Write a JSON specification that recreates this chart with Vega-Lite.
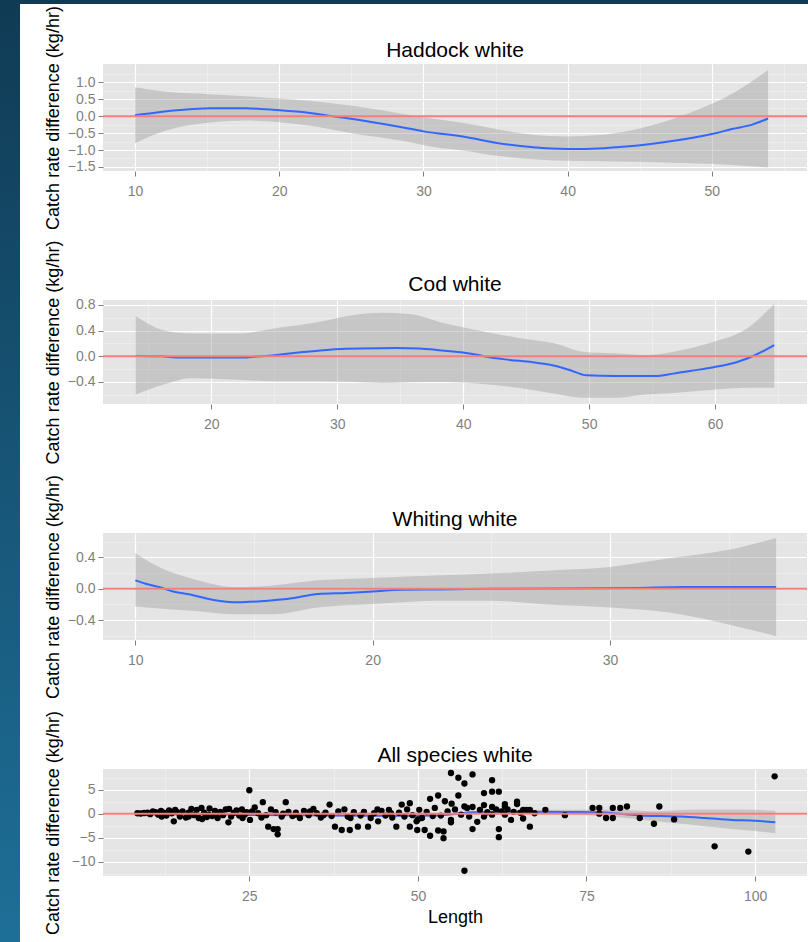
{
  "$schema": "https://vega.github.io/schema/vega-lite/v6.json",
  "padding": 0,
  "background": "#ffffff",
  "spacing": 0,
  "config": {
    "font": "Liberation Sans",
    "view": {"stroke": null, "fill": "#e5e5e5"},
    "axis": {
      "domain": false,
      "grid": true,
      "labelFont": "Liberation Sans",
      "labelFontSize": 14,
      "labelColor": "#7f7f7f",
      "tickColor": "#7f7f7f",
      "tickSize": 5,
      "tickWidth": 1,
      "titleFont": "Liberation Sans",
      "titleFontSize": 18,
      "titleFontWeight": "normal",
      "titleColor": "#000000",
      "gridColor": "#ffffff",
      "gridWidth": 1.2,
      "labelOverlap": false
    },
    "axisX": {"labelPadding": 8},
    "axisY": {"labelPadding": 3, "labelOverlap": false},
    "title": {"font": "Liberation Sans", "fontSize": 21, "fontWeight": "normal", "color": "#000000", "frame": "group", "anchor": "middle", "offset": -55},
    "point": {"filled": true, "color": "#000000", "size": 40, "opacity": 1}
  },
  "datasets": {
    "had_band": [
      {"len": 10, "lo": -0.80, "hi": 0.85}, {"len": 12.2, "lo": -0.42, "hi": 0.72}, {"len": 15.2, "lo": -0.19, "hi": 0.65},
      {"len": 17.7, "lo": -0.13, "hi": 0.59}, {"len": 20.0, "lo": -0.18, "hi": 0.52}, {"len": 22.4, "lo": -0.30, "hi": 0.44},
      {"len": 25.2, "lo": -0.52, "hi": 0.30}, {"len": 28.4, "lo": -0.72, "hi": 0.08}, {"len": 30.7, "lo": -0.91, "hi": -0.08},
      {"len": 33.0, "lo": -1.03, "hi": -0.22}, {"len": 35.1, "lo": -1.17, "hi": -0.39}, {"len": 37.6, "lo": -1.27, "hi": -0.55},
      {"len": 39.9, "lo": -1.32, "hi": -0.60}, {"len": 42.2, "lo": -1.33, "hi": -0.56}, {"len": 44.5, "lo": -1.35, "hi": -0.41},
      {"len": 46.8, "lo": -1.37, "hi": -0.15}, {"len": 49.1, "lo": -1.40, "hi": 0.20}, {"len": 51.4, "lo": -1.44, "hi": 0.66},
      {"len": 53.9, "lo": -1.52, "hi": 1.36}
    ],
    "had_fit": [
      {"len": 10, "fit": 0.03}, {"len": 10.8, "fit": 0.07}, {"len": 11.9, "fit": 0.13}, {"len": 13.1, "fit": 0.18},
      {"len": 15.2, "fit": 0.23}, {"len": 17.7, "fit": 0.23}, {"len": 19.8, "fit": 0.18}, {"len": 22.0, "fit": 0.10},
      {"len": 23.0, "fit": 0.04}, {"len": 24.5, "fit": -0.05}, {"len": 26.1, "fit": -0.15}, {"len": 28.4, "fit": -0.32},
      {"len": 30.0, "fit": -0.45}, {"len": 33.0, "fit": -0.62}, {"len": 35.1, "fit": -0.79}, {"len": 37.6, "fit": -0.92},
      {"len": 39.9, "fit": -0.97}, {"len": 41.3, "fit": -0.97}, {"len": 43.6, "fit": -0.91}, {"len": 45.2, "fit": -0.85},
      {"len": 47.5, "fit": -0.72}, {"len": 50.0, "fit": -0.53}, {"len": 51.4, "fit": -0.38}, {"len": 52.8, "fit": -0.25},
      {"len": 53.9, "fit": -0.07}
    ],
    "cod_band": [
      {"len": 14.0, "lo": -0.595, "hi": 0.626}, {"len": 16.2, "lo": -0.44, "hi": 0.405}, {"len": 18.4, "lo": -0.34, "hi": 0.354},
      {"len": 22.0, "lo": -0.364, "hi": 0.354}, {"len": 25.2, "lo": -0.39, "hi": 0.44}, {"len": 28.5, "lo": -0.39, "hi": 0.533},
      {"len": 31.4, "lo": -0.40, "hi": 0.646}, {"len": 33.6, "lo": -0.415, "hi": 0.677}, {"len": 35.7, "lo": -0.405, "hi": 0.66},
      {"len": 38.6, "lo": -0.40, "hi": 0.51}, {"len": 41.5, "lo": -0.43, "hi": 0.39}, {"len": 44.4, "lo": -0.49, "hi": 0.287},
      {"len": 47.3, "lo": -0.585, "hi": 0.20}, {"len": 49.5, "lo": -0.646, "hi": 0.072}, {"len": 52.0, "lo": -0.646, "hi": 0.046},
      {"len": 54.5, "lo": -0.595, "hi": 0.02}, {"len": 56.7, "lo": -0.57, "hi": 0.072}, {"len": 59.9, "lo": -0.52, "hi": 0.226},
      {"len": 62.5, "lo": -0.49, "hi": 0.43}, {"len": 64.7, "lo": -0.49, "hi": 0.815}
    ],
    "cod_fit": [
      {"len": 14.0, "fit": 0.005}, {"len": 16.0, "fit": 0.0}, {"len": 17.5, "fit": -0.02}, {"len": 22.6, "fit": -0.02},
      {"len": 23.9, "fit": 0.0}, {"len": 25.2, "fit": 0.02}, {"len": 26.7, "fit": 0.056}, {"len": 28.5, "fit": 0.087},
      {"len": 29.8, "fit": 0.108}, {"len": 31.8, "fit": 0.123}, {"len": 34.7, "fit": 0.128}, {"len": 36.5, "fit": 0.123},
      {"len": 38.3, "fit": 0.092}, {"len": 40.1, "fit": 0.056}, {"len": 41.2, "fit": 0.02}, {"len": 42.2, "fit": -0.02},
      {"len": 43.7, "fit": -0.056}, {"len": 45.5, "fit": -0.092}, {"len": 46.9, "fit": -0.133}, {"len": 48.4, "fit": -0.21},
      {"len": 49.8, "fit": -0.297}, {"len": 52.0, "fit": -0.308}, {"len": 55.2, "fit": -0.308}, {"len": 56.7, "fit": -0.27},
      {"len": 58.1, "fit": -0.226}, {"len": 59.9, "fit": -0.17}, {"len": 61.7, "fit": -0.092}, {"len": 63.2, "fit": 0.02},
      {"len": 64.7, "fit": 0.174}
    ],
    "whi_band": [
      {"len": 10.0, "lo": -0.225, "hi": 0.455}, {"len": 11.0, "lo": -0.25, "hi": 0.28}, {"len": 12.4, "lo": -0.28, "hi": 0.13},
      {"len": 14.3, "lo": -0.325, "hi": 0.022}, {"len": 15.8, "lo": -0.325, "hi": 0.043}, {"len": 17.7, "lo": -0.238, "hi": 0.108},
      {"len": 20.0, "lo": -0.195, "hi": 0.139}, {"len": 22.9, "lo": -0.152, "hi": 0.173}, {"len": 24.9, "lo": -0.152, "hi": 0.195},
      {"len": 27.7, "lo": -0.208, "hi": 0.238}, {"len": 30.0, "lo": -0.238, "hi": 0.28}, {"len": 32.5, "lo": -0.303, "hi": 0.39},
      {"len": 35.0, "lo": -0.455, "hi": 0.498}, {"len": 37.0, "lo": -0.606, "hi": 0.65}
    ],
    "whi_fit": [
      {"len": 10.0, "fit": 0.108}, {"len": 10.44, "fit": 0.065}, {"len": 11.0, "fit": 0.022}, {"len": 11.6, "fit": -0.035},
      {"len": 12.4, "fit": -0.078}, {"len": 13.3, "fit": -0.143}, {"len": 14.3, "fit": -0.173}, {"len": 15.6, "fit": -0.152},
      {"len": 16.6, "fit": -0.121}, {"len": 17.7, "fit": -0.065}, {"len": 18.9, "fit": -0.052}, {"len": 20.0, "fit": -0.035},
      {"len": 21.2, "fit": -0.013}, {"len": 22.8, "fit": -0.009}, {"len": 25.0, "fit": 0.0}, {"len": 28.0, "fit": 0.004},
      {"len": 31.0, "fit": 0.01}, {"len": 33.1, "fit": 0.022}, {"len": 37.0, "fit": 0.022}
    ],
    "all_band": [
      {"len": 8.6, "lo": -0.6, "hi": 0.6}, {"len": 20, "lo": -0.35, "hi": 0.25}, {"len": 30, "lo": -0.55, "hi": 0.05},
      {"len": 40, "lo": -0.65, "hi": -0.05}, {"len": 50, "lo": -0.7, "hi": -0.1}, {"len": 55, "lo": -0.4, "hi": 0.2},
      {"len": 60, "lo": 0.0, "hi": 0.6}, {"len": 65, "lo": 0.05, "hi": 0.75}, {"len": 70, "lo": -0.1, "hi": 0.8},
      {"len": 75, "lo": -0.3, "hi": 0.9}, {"len": 80, "lo": -0.8, "hi": 0.8}, {"len": 85, "lo": -1.5, "hi": 0.5},
      {"len": 90, "lo": -2.2, "hi": 0.8}, {"len": 95, "lo": -3.0, "hi": 0.9}, {"len": 100, "lo": -3.6, "hi": 0.8},
      {"len": 103, "lo": -4.1, "hi": 0.6}
    ],
    "all_fit": [
      {"len": 8.6, "fit": 0.0}, {"len": 20, "fit": -0.05}, {"len": 25, "fit": -0.25}, {"len": 35, "fit": -0.35},
      {"len": 45, "fit": -0.45}, {"len": 52, "fit": -0.4}, {"len": 55, "fit": -0.1}, {"len": 58, "fit": 0.3},
      {"len": 65, "fit": 0.4}, {"len": 72, "fit": 0.35}, {"len": 77, "fit": 0.3}, {"len": 80, "fit": 0.0},
      {"len": 83, "fit": -0.35}, {"len": 86, "fit": -0.5}, {"len": 89, "fit": -0.6}, {"len": 92.6, "fit": -0.9},
      {"len": 96.6, "fit": -1.3}, {"len": 100, "fit": -1.45}, {"len": 103, "fit": -1.8}
    ],
    "all_pts": [
      {"len": 8.4, "d": 0.1}, {"len": 8.9, "d": 0.05}, {"len": 9.4, "d": 0.15}, {"len": 9.9, "d": 0.2}, {"len": 10.3, "d": -0.1},
      {"len": 10.7, "d": 0.5}, {"len": 11.1, "d": 0.3}, {"len": 11.5, "d": -0.2}, {"len": 11.9, "d": 0.6}, {"len": 12.3, "d": 0.2},
      {"len": 12.7, "d": -0.4}, {"len": 13.1, "d": 0.7}, {"len": 13.5, "d": 0.1}, {"len": 13.8, "d": -1.6}, {"len": 14.3, "d": 0.3},
      {"len": 14.7, "d": -0.6}, {"len": 15.1, "d": 0.5}, {"len": 15.6, "d": -0.8}, {"len": 16.0, "d": 0.2}, {"len": 16.4, "d": 1.0},
      {"len": 16.8, "d": -0.3}, {"len": 17.2, "d": 0.8}, {"len": 17.5, "d": -0.9}, {"len": 17.9, "d": 1.2}, {"len": 18.3, "d": 0.2},
      {"len": 18.7, "d": -0.7}, {"len": 19.1, "d": 1.1}, {"len": 19.5, "d": -0.5}, {"len": 19.9, "d": 0.6}, {"len": 20.3, "d": -0.9},
      {"len": 20.7, "d": 0.4}, {"len": 21.1, "d": -0.3}, {"len": 21.5, "d": 0.9}, {"len": 21.9, "d": -1.8}, {"len": 22.3, "d": -0.6},
      {"len": 22.7, "d": 0.2}, {"len": 23.1, "d": 0.7}, {"len": 23.5, "d": -0.4}, {"len": 23.9, "d": 0.9}, {"len": 24.3, "d": -0.2},
      {"len": 24.6, "d": 0.3}, {"len": 25.0, "d": 4.9}, {"len": 25.1, "d": -1.3}, {"len": 25.4, "d": 0.5},
      {"len": 16.0, "d": -0.6}, {"len": 18.0, "d": -1.1}, {"len": 19.0, "d": -0.2}, {"len": 20.0, "d": 0.1}, {"len": 14.0, "d": 0.8},
      {"len": 12.0, "d": -0.6}, {"len": 22.0, "d": 1.0}, {"len": 24.0, "d": -0.9},
      {"len": 25.8, "d": 1.3}, {"len": 26.3, "d": 0.1}, {"len": 27.0, "d": 2.4}, {"len": 27.5, "d": -0.3}, {"len": 27.8, "d": -2.7},
      {"len": 28.2, "d": 0.9}, {"len": 28.6, "d": -3.2}, {"len": 28.9, "d": 0.3}, {"len": 29.2, "d": -3.2}, {"len": 29.2, "d": -4.3},
      {"len": 29.8, "d": -0.6}, {"len": 30.4, "d": 2.4}, {"len": 30.8, "d": 0.4}, {"len": 31.4, "d": -0.5}, {"len": 31.9, "d": 0.2},
      {"len": 32.5, "d": -0.9}, {"len": 33.1, "d": 0.6}, {"len": 33.8, "d": -0.3}, {"len": 34.5, "d": 1.0}, {"len": 35.0, "d": 0.1},
      {"len": 35.6, "d": -0.8}, {"len": 36.3, "d": 0.2}, {"len": 36.9, "d": 1.9}, {"len": 37.2, "d": -0.5}, {"len": 37.7, "d": -2.7},
      {"len": 38.2, "d": 0.5}, {"len": 38.7, "d": -3.4}, {"len": 39.1, "d": 0.9}, {"len": 39.6, "d": -0.6}, {"len": 39.9, "d": -3.4},
      {"len": 40.5, "d": 0.3}, {"len": 41.1, "d": -2.7}, {"len": 41.5, "d": -0.4}, {"len": 42.0, "d": 0.4}, {"len": 42.6, "d": -2.7},
      {"len": 43.0, "d": -0.9}, {"len": 43.5, "d": 0.1}, {"len": 44.1, "d": -1.6}, {"len": 44.6, "d": 0.6}, {"len": 45.2, "d": -0.4},
      {"len": 45.7, "d": 0.8}, {"len": 46.2, "d": -0.8}, {"len": 46.8, "d": -2.7}, {"len": 47.2, "d": 0.2}, {"len": 47.6, "d": 1.9},
      {"len": 48.0, "d": -0.6}, {"len": 48.4, "d": 0.9}, {"len": 48.8, "d": 2.2}, {"len": 48.8, "d": -2.7}, {"len": 49.2, "d": -0.3},
      {"len": 49.8, "d": -1.6}, {"len": 49.9, "d": -3.4}, {"len": 50.2, "d": 0.8}, {"len": 50.6, "d": -0.9}, {"len": 51.0, "d": -3.4},
      {"len": 51.3, "d": 0.4}, {"len": 51.8, "d": 3.1}, {"len": 51.8, "d": -4.6}, {"len": 52.2, "d": -0.5},
      {"len": 32.0, "d": -0.2}, {"len": 34.0, "d": 0.5}, {"len": 36.0, "d": -0.3}, {"len": 40.0, "d": -0.9}, {"len": 44.0, "d": 0.9},
      {"len": 46.0, "d": 0.1}, {"len": 50.0, "d": -1.2}, {"len": 26.8, "d": -0.8}, {"len": 30.0, "d": 0.0},
      {"len": 52.5, "d": 1.2}, {"len": 53.0, "d": 3.8}, {"len": 53.0, "d": -3.5}, {"len": 53.4, "d": -0.4}, {"len": 53.8, "d": -3.7},
      {"len": 53.8, "d": -5.1}, {"len": 54.0, "d": 2.6}, {"len": 54.4, "d": 0.5}, {"len": 54.9, "d": 8.5}, {"len": 54.9, "d": -1.3},
      {"len": 54.9, "d": -1.8}, {"len": 55.0, "d": 2.1}, {"len": 55.5, "d": 0.9}, {"len": 56.0, "d": 7.5}, {"len": 56.0, "d": 3.8},
      {"len": 56.4, "d": -0.2}, {"len": 56.9, "d": 6.3}, {"len": 56.9, "d": 1.5}, {"len": 56.9, "d": -11.9}, {"len": 57.3, "d": 1.2},
      {"len": 57.6, "d": -0.6}, {"len": 58.1, "d": 8.2}, {"len": 58.1, "d": 1.4}, {"len": 58.1, "d": -3.2}, {"len": 58.8, "d": -1.7},
      {"len": 59.2, "d": 0.8}, {"len": 59.8, "d": 4.3}, {"len": 59.8, "d": 1.8}, {"len": 59.8, "d": -0.6}, {"len": 60.3, "d": 0.3},
      {"len": 61.0, "d": 7.0}, {"len": 61.0, "d": 4.6}, {"len": 61.0, "d": 1.4}, {"len": 61.0, "d": -0.2}, {"len": 61.6, "d": 0.9},
      {"len": 62.0, "d": 4.6}, {"len": 62.0, "d": -3.2}, {"len": 62.0, "d": -4.9}, {"len": 62.4, "d": 0.5}, {"len": 62.9, "d": 2.0},
      {"len": 62.9, "d": 1.5}, {"len": 62.9, "d": -0.2}, {"len": 63.3, "d": 0.9}, {"len": 63.8, "d": -1.3}, {"len": 64.2, "d": 0.4},
      {"len": 64.7, "d": 2.5}, {"len": 64.7, "d": 2.0}, {"len": 65.2, "d": 0.2}, {"len": 65.6, "d": 0.8}, {"len": 65.6, "d": -1.0},
      {"len": 66.1, "d": 0.8}, {"len": 66.6, "d": 0.8}, {"len": 66.6, "d": -2.7}, {"len": 67.3, "d": 0.1}, {"len": 68.9, "d": 0.8},
      {"len": 71.8, "d": -0.3},
      {"len": 75.9, "d": 1.2}, {"len": 76.9, "d": 1.2}, {"len": 76.9, "d": 0.0}, {"len": 77.9, "d": -0.9}, {"len": 78.9, "d": -0.9},
      {"len": 78.9, "d": 1.2}, {"len": 80.0, "d": 1.2}, {"len": 81.0, "d": 1.5}, {"len": 82.9, "d": -0.9}, {"len": 85.0, "d": -2.1},
      {"len": 85.8, "d": 1.5}, {"len": 88.0, "d": -1.2}, {"len": 94.0, "d": -6.8}, {"len": 99.0, "d": -7.9}, {"len": 102.9, "d": 7.8}
    ],
    "zero": [{"y": 0}],
    "blank": [{}]
  },
  "vconcat": [
    {
      "width": 808, "height": 4,
      "data": {"name": "blank"},
      "mark": {"type": "rect", "color": "#103b55"},
      "encoding": {}
    },
    {
      "spacing": 24,
      "hconcat": [
        {
          "width": 20, "height": 938,
          "data": {"name": "blank"},
          "mark": {"type": "rect", "color": {"gradient": "linear", "x1": 0, "y1": 0, "x2": 0, "y2": 1, "stops": [{"offset": 0, "color": "#103b55"}, {"offset": 1, "color": "#1e6f98"}]}},
          "encoding": {}
        },
        {
          "spacing": 0,
          "vconcat": [
            {
              "width": 704, "height": 1,
              "view": {"fill": null, "stroke": null},
              "data": {"name": "blank"},
              "mark": {"type": "rect", "opacity": 0},
              "encoding": {}
            },
            {
              "spacing": 129,
              "bounds": "flush",
              "vconcat": [
                {
                  "width": 704, "height": 107,
                  "title": {"text": "Haddock white"},
                  "resolve": {"axis": {"y": "independent"}},
                  "layer": [
                    {
                      "data": {"name": "had_band"},
                      "mark": {"type": "area", "color": "#999999", "opacity": 0.4, "interpolate": "monotone"},
                      "encoding": {
                        "x": {"field": "len", "type": "quantitative", "scale": {"domain": [7.78, 56.6], "nice": false, "zero": false},
                          "axis": {"title": null, "labelOverlap": false, "values": [10, 15, 20, 25, 30, 35, 40, 45, 50, 55], "format": "d",
                            "labelExpr": "datum.value % 10 == 0 ? datum.label : ''",
                            "gridColor": {"condition": {"test": "datum.value % 10 == 0", "value": "#ffffff"}, "value": "#f2f2f2"},
                            "gridWidth": {"condition": {"test": "datum.value % 10 == 0", "value": 1.2}, "value": 0.6},
                            "tickOpacity": {"condition": {"test": "datum.value % 10 == 0", "value": 1}, "value": 0}}},
                        "y": {"field": "lo", "type": "quantitative", "scale": {"domain": [-1.62, 1.54], "nice": false, "zero": false},
                          "axis": {"orient": "left", "title": "Catch rate difference (kg/hr)", "titlePadding": 5, "labelOverlap": false,
                            "values": [-1.5, -1, -0.5, 0, 0.5, 1], "format": ".1f"}},
                        "y2": {"field": "hi"}
                      }
                    },
                    {
                      "data": {"name": "had_fit"},
                      "mark": {"type": "line", "color": "#3366ff", "strokeWidth": 2, "interpolate": "monotone"},
                      "encoding": {"x": {"field": "len", "type": "quantitative"},
                        "y": {"field": "fit", "type": "quantitative", "axis": {"orient": "left", "title": null, "labels": false, "ticks": false, "domain": false, "grid": true, "gridColor": "#f2f2f2", "gridWidth": 0.6, "values": [-1.25, -0.75, -0.25, 0.25, 0.75, 1.25]}}}
                    },
                    {
                      "data": {"name": "zero"},
                      "mark": {"type": "rule", "color": "#f37f7b", "strokeWidth": 2},
                      "encoding": {"y": {"field": "y", "type": "quantitative", "axis": null}}
                    }
                  ]
                },
                {
                  "width": 704, "height": 104,
                  "title": {"text": "Cod white"},
                  "resolve": {"axis": {"y": "independent"}},
                  "layer": [
                    {
                      "data": {"name": "cod_band"},
                      "mark": {"type": "area", "color": "#999999", "opacity": 0.4, "interpolate": "monotone"},
                      "encoding": {
                        "x": {"field": "len", "type": "quantitative", "scale": {"domain": [11.4, 67.3], "nice": false, "zero": false},
                          "axis": {"title": null, "labelOverlap": false, "values": [15, 20, 25, 30, 35, 40, 45, 50, 55, 60, 65], "format": "d",
                            "labelExpr": "datum.value % 10 == 0 ? datum.label : ''",
                            "gridColor": {"condition": {"test": "datum.value % 10 == 0", "value": "#ffffff"}, "value": "#f2f2f2"},
                            "gridWidth": {"condition": {"test": "datum.value % 10 == 0", "value": 1.2}, "value": 0.6},
                            "tickOpacity": {"condition": {"test": "datum.value % 10 == 0", "value": 1}, "value": 0}}},
                        "y": {"field": "lo", "type": "quantitative", "scale": {"domain": [-0.743, 0.877], "nice": false, "zero": false},
                          "axis": {"orient": "left", "title": "Catch rate difference (kg/hr)", "titlePadding": 5, "labelOverlap": false,
                            "values": [-0.4, 0, 0.4, 0.8], "format": ".1f"}},
                        "y2": {"field": "hi"}
                      }
                    },
                    {
                      "data": {"name": "cod_fit"},
                      "mark": {"type": "line", "color": "#3366ff", "strokeWidth": 2, "interpolate": "monotone"},
                      "encoding": {"x": {"field": "len", "type": "quantitative"},
                        "y": {"field": "fit", "type": "quantitative", "axis": {"orient": "left", "title": null, "labels": false, "ticks": false, "domain": false, "grid": true, "gridColor": "#f2f2f2", "gridWidth": 0.6, "values": [-0.6, -0.2, 0.2, 0.6]}}}
                    },
                    {
                      "data": {"name": "zero"},
                      "mark": {"type": "rule", "color": "#f37f7b", "strokeWidth": 2},
                      "encoding": {"y": {"field": "y", "type": "quantitative", "axis": null}}
                    }
                  ]
                },
                {
                  "width": 704, "height": 107,
                  "title": {"text": "Whiting white"},
                  "resolve": {"axis": {"y": "independent"}},
                  "layer": [
                    {
                      "data": {"name": "whi_band"},
                      "mark": {"type": "area", "color": "#999999", "opacity": 0.4, "interpolate": "monotone"},
                      "encoding": {
                        "x": {"field": "len", "type": "quantitative", "scale": {"domain": [8.64, 38.3], "nice": false, "zero": false},
                          "axis": {"title": null, "labelOverlap": false, "values": [10, 15, 20, 25, 30, 35], "format": "d",
                            "labelExpr": "datum.value % 10 == 0 ? datum.label : ''",
                            "gridColor": {"condition": {"test": "datum.value % 10 == 0", "value": "#ffffff"}, "value": "#f2f2f2"},
                            "gridWidth": {"condition": {"test": "datum.value % 10 == 0", "value": 1.2}, "value": 0.6},
                            "tickOpacity": {"condition": {"test": "datum.value % 10 == 0", "value": 1}, "value": 0}}},
                        "y": {"field": "lo", "type": "quantitative", "scale": {"domain": [-0.654, 0.713], "nice": false, "zero": false},
                          "axis": {"orient": "left", "title": "Catch rate difference (kg/hr)", "titlePadding": 5, "labelOverlap": false,
                            "values": [-0.4, 0, 0.4], "format": ".1f"}},
                        "y2": {"field": "hi"}
                      }
                    },
                    {
                      "data": {"name": "whi_fit"},
                      "mark": {"type": "line", "color": "#3366ff", "strokeWidth": 2, "interpolate": "monotone"},
                      "encoding": {"x": {"field": "len", "type": "quantitative"},
                        "y": {"field": "fit", "type": "quantitative", "axis": {"orient": "left", "title": null, "labels": false, "ticks": false, "domain": false, "grid": true, "gridColor": "#f2f2f2", "gridWidth": 0.6, "values": [-0.6, -0.2, 0.2, 0.6]}}}
                    },
                    {
                      "data": {"name": "zero"},
                      "mark": {"type": "rule", "color": "#f37f7b", "strokeWidth": 2},
                      "encoding": {"y": {"field": "y", "type": "quantitative", "axis": null}}
                    }
                  ]
                },
                {
                  "width": 704, "height": 107,
                  "title": {"text": "All species white"},
                  "resolve": {"axis": {"y": "independent"}},
                  "layer": [
                    {
                      "data": {"name": "all_band"},
                      "mark": {"type": "area", "color": "#999999", "opacity": 0.4, "interpolate": "monotone"},
                      "encoding": {
                        "x": {"field": "len", "type": "quantitative", "scale": {"domain": [3.3, 107.7], "nice": false, "zero": false},
                          "axis": {"title": "Length", "titlePadding": 5, "labelOverlap": false, "values": [12.5, 25, 37.5, 50, 62.5, 75, 87.5, 100], "format": "d",
                            "labelExpr": "datum.value % 25 == 0 ? datum.label : ''",
                            "gridColor": {"condition": {"test": "datum.value % 25 == 0", "value": "#ffffff"}, "value": "#f2f2f2"},
                            "gridWidth": {"condition": {"test": "datum.value % 25 == 0", "value": 1.2}, "value": 0.6},
                            "tickOpacity": {"condition": {"test": "datum.value % 25 == 0", "value": 1}, "value": 0}}},
                        "y": {"field": "lo", "type": "quantitative", "scale": {"domain": [-13.0, 9.33], "nice": false, "zero": false},
                          "axis": {"orient": "left", "title": "Catch rate difference (kg/hr)", "titlePadding": 9, "labelOverlap": false,
                            "values": [-10, -5, 0, 5], "format": "d"}},
                        "y2": {"field": "hi"}
                      }
                    },
                    {
                      "data": {"name": "all_fit"},
                      "mark": {"type": "line", "color": "#3366ff", "strokeWidth": 2, "interpolate": "monotone"},
                      "encoding": {"x": {"field": "len", "type": "quantitative"},
                        "y": {"field": "fit", "type": "quantitative", "axis": {"orient": "left", "title": null, "labels": false, "ticks": false, "domain": false, "grid": true, "gridColor": "#f2f2f2", "gridWidth": 0.6, "values": [-12.5, -7.5, -2.5, 2.5, 7.5]}}}
                    },
                    {
                      "data": {"name": "all_pts"},
                      "mark": {"type": "point"},
                      "encoding": {"x": {"field": "len", "type": "quantitative"}, "y": {"field": "d", "type": "quantitative", "axis": null}}
                    },
                    {
                      "data": {"name": "zero"},
                      "mark": {"type": "rule", "color": "#f37f7b", "strokeWidth": 2},
                      "encoding": {"y": {"field": "y", "type": "quantitative", "axis": null}}
                    }
                  ]
                }
              ]
            }
          ]
        }
      ]
    }
  ]
}
